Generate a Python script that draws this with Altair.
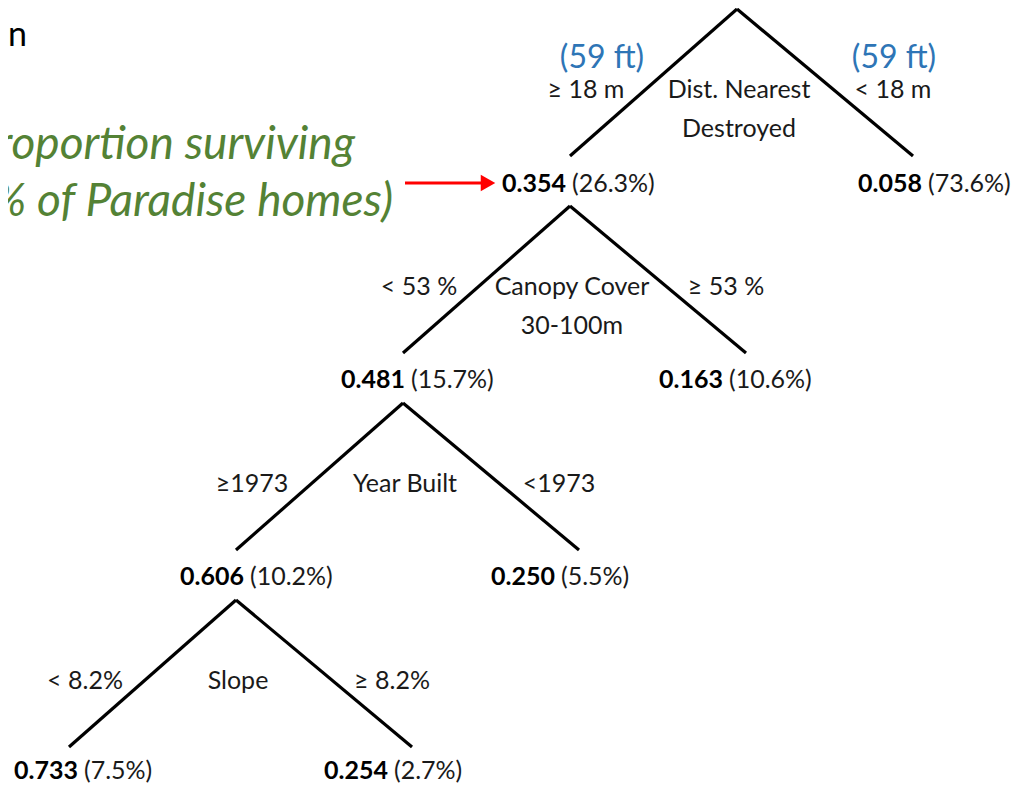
import altair as alt
import pandas as pd

# ---- data ----
split_names = ["Dist. Nearest\nDestroyed", "Canopy Cover\n30-100m", "Year Built", "Slope"]
left_conditions = ["≥ 18 m", "< 53 %", "≥1973", "< 8.2%"]
right_conditions = ["< 18 m", "≥ 53 %", "<1973", "≥ 8.2%"]
left_survival = ["0.354", "0.481", "0.606", "0.733"]
left_share = ["26.3%", "15.7%", "10.2%", "7.5%"]
right_survival = ["0.058", "0.163", "0.250", "0.254"]
right_share = ["73.6%", "10.6%", "5.5%", "2.7%"]
root_threshold_ft = ["(59 ft)", "(59 ft)"]
annotation_lines = ["Proportion surviving", "(% of Paradise homes)"]
corner_fragment = ["n"]

# ---- layout constants (pixels of the 1023x792 picture) ----
ROOT_X, ROOT_Y = 737, 9
STEP_X, STEP_Y = -167, 197
ARM_L, ARM_R, DROP = 167, 176, 147
LEFT_LABEL_DX = [-4, 2, 8, 9]
RIGHT_LABEL_DX = [9, -23, -24, -24]
LABEL_DY = [28, 27, 27, 24]
FONT = "Lato"

edges, conds, names, vals, pcts, blues = [], [], [], [], [], []
for k in range(len(split_names)):
    ax = ROOT_X + STEP_X * k
    ay = ROOT_Y + STEP_Y * k
    lx, rx, ey = ax - ARM_L, ax + ARM_R, ay + DROP
    edges.append(dict(x=ax, y=ay, x2=lx, y2=ey))
    edges.append(dict(x=ax, y=ay, x2=rx, y2=ey))
    conds.append(dict(x=ax - 151, y=ay + 81, t=left_conditions[k]))
    conds.append(dict(x=ax + 156, y=ay + 81, t=right_conditions[k]))
    for i, line in enumerate(split_names[k].split("\n")):
        names.append(dict(x=ax + 2, y=ay + 81 + 39 * i, t=line))
    for ex, dx, v, p in ((lx, LEFT_LABEL_DX[k], left_survival[k], left_share[k]),
                         (rx, RIGHT_LABEL_DX[k], right_survival[k], right_share[k])):
        vals.append(dict(x=ex + dx, y=ey + LABEL_DY[k], t=v))
        pcts.append(dict(x=ex + dx + 6, y=ey + LABEL_DY[k], t="(" + p + ")"))
    if k == 0:
        blues.append(dict(x=ax - 135, y=ay + 49, t=root_threshold_ft[0]))
        blues.append(dict(x=ax + 157, y=ay + 49, t=root_threshold_ft[1]))

green = [dict(x=355, y=145, t=annotation_lines[0]), dict(x=393, y=202, t=annotation_lines[1])]
corner = [dict(x=8, y=36, t=corner_fragment[0])]
arrow_shaft = [dict(x=405, y=183, x2=482, y2=183)]
arrow_head = [dict(x=488, y=183)]

X = alt.X("x:Q", scale=alt.Scale(domain=[8, 1015], nice=False, zero=False), axis=None)
Y = alt.Y("y:Q", scale=alt.Scale(domain=[8, 784], nice=False, zero=False, reverse=True), axis=None)


def txt(rows, **kw):
    return alt.Chart(pd.DataFrame(rows)).mark_text(font=FONT, baseline="middle", **kw).encode(
        x=X, y=Y, text="t:N")


tree = alt.Chart(pd.DataFrame(edges)).mark_rule(color="black", strokeWidth=3.2, strokeCap="butt").encode(
    x=X, y=Y, x2="x2:Q", y2="y2:Q")
shaft = alt.Chart(pd.DataFrame(arrow_shaft)).mark_rule(color="#ff0000", strokeWidth=3).encode(
    x=X, y=Y, x2="x2:Q", y2="y2:Q")
head = alt.Chart(pd.DataFrame(arrow_head)).mark_point(
    shape="triangle-right", filled=True, color="#ff0000", opacity=1, size=280).encode(x=X, y=Y)

layers = [
    tree,
    shaft,
    head,
    txt(conds, fontSize=25, color="#1a1a1a", align="center"),
    txt(names, fontSize=25, color="#1a1a1a", align="center"),
    txt(vals, fontSize=25, fontWeight="bold", color="black", align="right"),
    txt(pcts, fontSize=25, color="#1a1a1a", align="left"),
    txt(blues, fontSize=32, color="#2e75b6", align="center"),
    txt(green, fontSize=46, fontStyle="italic", color="#548235", align="right"),
    txt(corner, fontSize=34, color="black", align="left"),
]

chart = alt.layer(*layers).properties(
    width=1007, height=776, padding=0,
    autosize=alt.AutoSizeParams(type="none"),
    background="white",
).configure_view(stroke=None)

chart.save("out.html", embed_options={"renderer": "svg", "actions": False})
